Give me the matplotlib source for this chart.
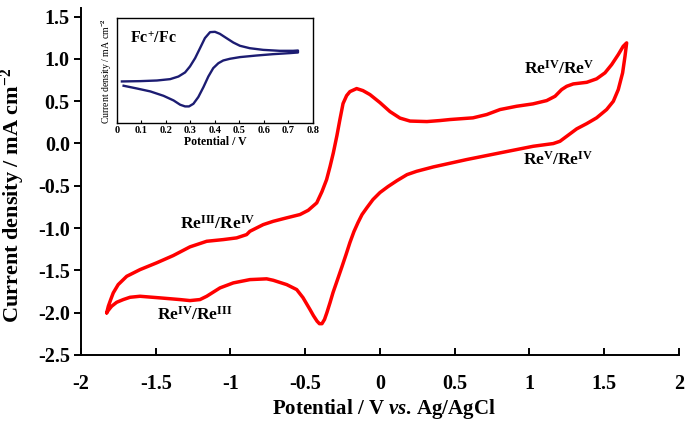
import numpy as np
import matplotlib.pyplot as plt

plt.rcParams['font.family'] = ['Liberation Serif', 'DejaVu Serif']
plt.rcParams['font.weight'] = 'bold'
plt.rcParams['mathtext.fontset'] = 'custom'
plt.rcParams['mathtext.rm'] = 'Liberation Serif:bold'
plt.rcParams['mathtext.it'] = 'Liberation Serif:bold:italic'
plt.rcParams['mathtext.bf'] = 'Liberation Serif:bold'

# Main CV, anodic sweep (left vertex -> right vertex)
E_fwd = [-1.828, -1.817, -1.801, -1.784, -1.751, -1.694, -1.605, -1.494, -1.383,
         -1.271, -1.159, -1.048, -0.959, -0.892, -0.870, -0.781, -0.714, -0.624,
         -0.535, -0.480, -0.423, -0.388, -0.357, -0.334, -0.312, -0.288, -0.268,
         -0.247, -0.223, -0.201, -0.156, -0.114, -0.067, 0.000, 0.067, 0.134,
         0.201, 0.314, 0.401, 0.468, 0.622, 0.714, 0.803, 0.914, 1.023, 1.115,
         1.171, 1.215, 1.249, 1.293, 1.383, 1.449, 1.505, 1.550, 1.594, 1.627, 1.650]
j_fwd = [-2.002, -1.924, -1.845, -1.766, -1.668, -1.570, -1.491, -1.411, -1.325,
         -1.222, -1.156, -1.136, -1.116, -1.077, -1.038, -0.959, -0.920, -0.879,
         -0.840, -0.790, -0.702, -0.569, -0.427, -0.273, -0.111, 0.093, 0.283,
         0.472, 0.566, 0.613, 0.649, 0.625, 0.578, 0.483, 0.377, 0.300,
         0.265, 0.259, 0.271, 0.283, 0.303, 0.342, 0.401, 0.440, 0.468, 0.507,
         0.558, 0.637, 0.676, 0.704, 0.723, 0.764, 0.835, 0.933, 1.051, 1.149, 1.189]
# cathodic sweep (right vertex -> left vertex)
E_rev = [1.639, 1.623, 1.594, 1.561, 1.516, 1.449, 1.383, 1.316, 1.249, 1.204,
         1.159, 1.025, 0.803, 0.580, 0.357, 0.245, 0.181, 0.114, 0.054, 0.000,
         -0.047, -0.087, -0.120, -0.147, -0.174, -0.201, -0.227, -0.254, -0.284,
         -0.314, -0.334, -0.355, -0.371, -0.388, -0.405, -0.421, -0.445, -0.468,
         -0.515, -0.557, -0.624, -0.714, -0.758, -0.870, -0.981, -1.070, -1.159,
         -1.204, -1.271, -1.338, -1.472, -1.605, -1.672, -1.717, -1.761, -1.795,
         -1.817, -1.828]
j_rev = [1.031, 0.835, 0.637, 0.499, 0.401, 0.303, 0.235, 0.173, 0.085, 0.026,
         -0.001, -0.033, -0.111, -0.190, -0.277, -0.329, -0.368, -0.439, -0.509, -0.580,
         -0.663, -0.758, -0.840, -0.935, -1.041, -1.171, -1.313, -1.455, -1.609,
         -1.762, -1.881, -1.999, -2.080, -2.130, -2.130, -2.100, -2.035, -1.963,
         -1.822, -1.727, -1.668, -1.617, -1.600, -1.609, -1.648, -1.707, -1.806,
         -1.845, -1.857, -1.845, -1.825, -1.806, -1.818, -1.845, -1.877, -1.924,
         -1.972, -2.002]

# Inset Fc+/Fc CV (arbitrary current scale)
fc_E_fwd = [0.020, 0.095, 0.163, 0.217, 0.251, 0.278, 0.298, 0.319, 0.339, 0.359,
            0.380, 0.400, 0.420, 0.447, 0.475, 0.502, 0.542, 0.597, 0.664, 0.719, 0.739]
fc_j_fwd = [0.397, 0.400, 0.406, 0.419, 0.444, 0.483, 0.540, 0.619, 0.714, 0.810,
            0.867, 0.870, 0.851, 0.810, 0.768, 0.737, 0.714, 0.698, 0.689, 0.689, 0.692]
fc_E_rev = [0.739, 0.705, 0.637, 0.569, 0.502, 0.461, 0.434, 0.414, 0.393, 0.373,
            0.353, 0.332, 0.312, 0.294, 0.278, 0.258, 0.231, 0.190, 0.136, 0.081, 0.027]
fc_j_rev = [0.673, 0.667, 0.657, 0.644, 0.629, 0.613, 0.597, 0.571, 0.524, 0.444,
            0.343, 0.248, 0.184, 0.159, 0.159, 0.175, 0.216, 0.260, 0.302, 0.330, 0.356]

xticks = [-2, -1.5, -1, -0.5, 0, 0.5, 1, 1.5, 2]
xtick_labels = ['-2', '-1.5', '-1', '-0.5', '0', '0.5', '1', '1.5', '2']
yticks = [-2.5, -2.0, -1.5, -1.0, -0.5, 0.0, 0.5, 1.0, 1.5]
ytick_labels = ['-2.5', '-2.0', '-1.5', '-1.0', '-0.5', '0.0', '0.5', '1.0', '1.5']

fig = plt.figure(figsize=(6.85, 4.23), dpi=100)
ax = fig.add_axes([0.1182, 0.1608, 0.873, 0.820])

ax.plot(E_fwd + E_rev, j_fwd + j_rev, color='#ff0000', linewidth=2.5,
        solid_joinstyle='round', solid_capstyle='round')

ax.set_xlim(-2, 2)
ax.set_ylim(-2.5, 1.6)
ax.set_xticks(xticks)
ax.set_xticklabels(xtick_labels)
ax.set_yticks(yticks)
ax.set_yticklabels(ytick_labels)
for s in ['top', 'right']:
    ax.spines[s].set_visible(False)
for s in ['left', 'bottom']:
    ax.spines[s].set_linewidth(1.4)
ax.tick_params(axis='x', direction='in', length=5, width=1.4, labelsize=14.5, pad=14)
ax.tick_params(axis='y', direction='out', length=5, width=1.4, labelsize=14.5, pad=3)

ax.set_xlabel(r'Potential / V $vs$. Ag/AgCl', fontsize=15, fontweight='bold')
ax.set_ylabel(r'Current density / mA cm$^{-2}$', fontsize=16, fontweight='bold')
ax.xaxis.set_label_coords(0.506, -0.122)
ax.yaxis.set_label_coords(-0.090, 0.46)

# redox couple labels
lab = dict(fontsize=12.5, fontweight='bold', ha='center', va='center')
ax.text(-1.084, -0.947, r'Re$^{\rm III}$/Re$^{\rm IV}$', **lab)
ax.text(-1.237, -2.03, r'Re$^{\rm IV}$/Re$^{\rm III}$', **lab)
ax.text(1.197, 0.885, r'Re$^{\rm IV}$/Re$^{\rm V}$', **lab)
ax.text(1.191, -0.19, r'Re$^{\rm V}$/Re$^{\rm IV}$', **lab)

# inset
ins = fig.add_axes([0.1708, 0.709, 0.286, 0.248])
ins.plot(fc_E_fwd + fc_E_rev, fc_j_fwd + fc_j_rev, color='#1c1c72', linewidth=1.7,
         solid_joinstyle='round')
ins.set_xlim(0, 0.8)
ins.set_ylim(0, 1)
ins.set_xticks(np.arange(0, 0.81, 0.1))
ins.set_xticklabels(['0', '0.1', '0.2', '0.3', '0.4', '0.5', '0.6', '0.7', '0.8'])
ins.set_yticks([])
for s in ins.spines.values():
    s.set_linewidth(1.0)
ins.tick_params(axis='x', direction='in', length=2.5, width=0.8, labelsize=7.5, pad=2)
ins.set_xlabel('Potential / V', fontsize=8.5, fontweight='bold', labelpad=1)
ins.set_ylabel(r'Current density / mA cm$^{-2}$', fontsize=7, fontweight='normal', labelpad=2,
               family=['Liberation Serif'])
ins.text(0.066, 0.80, r'Fc$^{+}$/Fc', transform=ins.transAxes, fontsize=11.5,
         fontweight='bold', ha='left', va='center')

fig.savefig('out.png', dpi=100)
